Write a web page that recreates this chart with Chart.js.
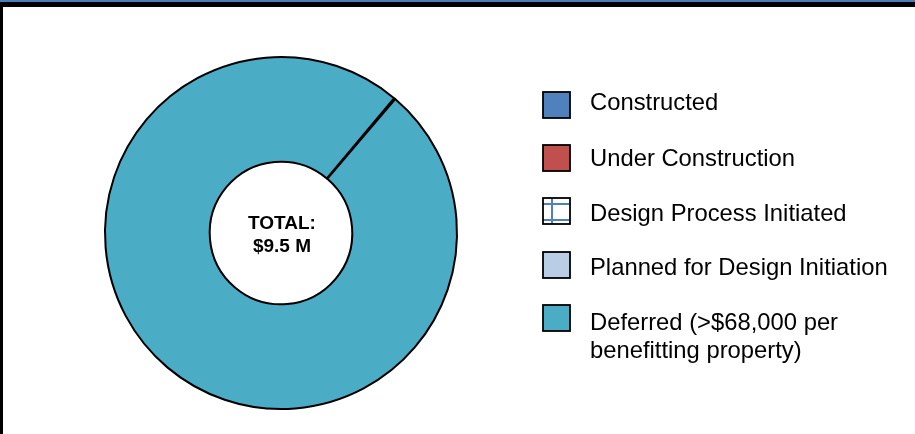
<!DOCTYPE html>
<html>
<head>
<meta charset="utf-8">
<script src="https://cdn.jsdelivr.net/npm/chart.js@4.4.1/dist/chart.umd.min.js"></script>
<style>
  html, body { margin: 0; padding: 0; background: #fff; }
  #wrap { position: relative; width: 915px; height: 434px; }
  canvas { display: block; }
</style>
</head>
<body>
<div id="wrap"><canvas id="c" width="915" height="434"></canvas></div>
<script>
// ---- data ----
const categories = [
  'Constructed',
  'Under Construction',
  'Design Process Initiated',
  'Planned for Design Initiation',
  ['Deferred (>$68,000 per', 'benefitting property)']
];
const values = [0, 0, 0.012, 0, 9.488];   // $ millions
const totalLines = ['TOTAL:', '$9.5 M'];

// ---- styles ----
const solidColors = ['#4F81BD', '#C0504D', null, '#B9CDE5', '#4BACC6'];
const gridBlue = '#4F81BD';

function makePattern() {
  const p = document.createElement('canvas');
  p.width = 16; p.height = 16;
  const g = p.getContext('2d');
  g.fillStyle = '#fff'; g.fillRect(0, 0, 16, 16);
  g.strokeStyle = gridBlue; g.lineWidth = 2;
  g.beginPath(); g.moveTo(8, 0); g.lineTo(8, 16); g.moveTo(0, 6); g.lineTo(16, 6); g.stroke();
  return document.getElementById('c').getContext('2d').createPattern(p, 'repeat');
}
const pattern = makePattern();
const bgColors = solidColors.map(c => c === null ? pattern : c);

const framePlugin = {
  id: 'frame',
  beforeDraw(chart) {
    const ctx = chart.ctx;
    ctx.save();
    ctx.fillStyle = '#000';
    ctx.fillRect(0, 0, chart.width, 7);
    ctx.fillRect(0, 0, 3, chart.height);
    ctx.fillStyle = '#4A7EBB';
    ctx.fillRect(0, 0, chart.width, 2);
    ctx.restore();
  }
};

const centerPlugin = {
  id: 'centerText',
  afterDraw(chart) {
    const ctx = chart.ctx;
    const arc = chart.getDatasetMeta(0).data[0];
    const cx = arc.x, cy = arc.y;
    ctx.save();
    ctx.fillStyle = '#000';
    ctx.font = 'bold 19px "Liberation Sans", Arial, sans-serif';
    ctx.textAlign = 'center';
    ctx.textBaseline = 'alphabetic';
    ctx.fillText(totalLines[0], cx + 1, cy - 4);
    ctx.fillText(totalLines[1], cx + 1, cy + 19);
    ctx.restore();
  }
};

const legendPlugin = {
  id: 'customLegend',
  afterDraw(chart) {
    const ctx = chart.ctx;
    const boxX = 543, boxW = 27, boxH = 26;
    const boxTops = [92, 145, 198, 252, 305];
    const baselines = [110, 165.5, 220.5, 274.5, 330];
    const lineH = 28;
    const textX = 590;
    ctx.save();
    categories.forEach((cat, i) => {
      const y = boxTops[i];
      if (solidColors[i] === null) {
        ctx.fillStyle = '#fff';
        ctx.fillRect(boxX, y, boxW, boxH);
        ctx.strokeStyle = gridBlue; ctx.lineWidth = 2;
        ctx.beginPath();
        ctx.moveTo(boxX + 9, y); ctx.lineTo(boxX + 9, y + boxH);
        ctx.moveTo(boxX, y + 6); ctx.lineTo(boxX + boxW, y + 6);
        ctx.moveTo(boxX, y + 22); ctx.lineTo(boxX + boxW, y + 22);
        ctx.stroke();
      } else {
        ctx.fillStyle = solidColors[i];
        ctx.fillRect(boxX, y, boxW, boxH);
      }
      ctx.strokeStyle = '#000'; ctx.lineWidth = 1.8;
      ctx.strokeRect(boxX, y, boxW, boxH);
      ctx.fillStyle = '#000';
      ctx.font = '23.8px "Liberation Sans", Arial, sans-serif';
      ctx.textAlign = 'left';
      ctx.textBaseline = 'alphabetic';
      const lines = Array.isArray(cat) ? cat : [cat];
      lines.forEach((ln, j) => ctx.fillText(ln, textX, baselines[i] + j * lineH));
    });
    ctx.restore();
  }
};

new Chart(document.getElementById('c'), {
  type: 'doughnut',
  data: {
    labels: categories.map(c => Array.isArray(c) ? c.join(' ') : c),
    datasets: [{
      data: values,
      backgroundColor: bgColors,
      borderColor: '#000',
      borderWidth: 2
    }]
  },
  options: {
    responsive: false,
    animation: false,
    rotation: 40,
    cutout: '40.5%',
    layout: { padding: { left: 104, right: 457, top: 56, bottom: 24 } },
    plugins: { legend: { display: false }, tooltip: { enabled: false } }
  },
  plugins: [framePlugin, centerPlugin, legendPlugin]
});
</script>
</body>
</html>
